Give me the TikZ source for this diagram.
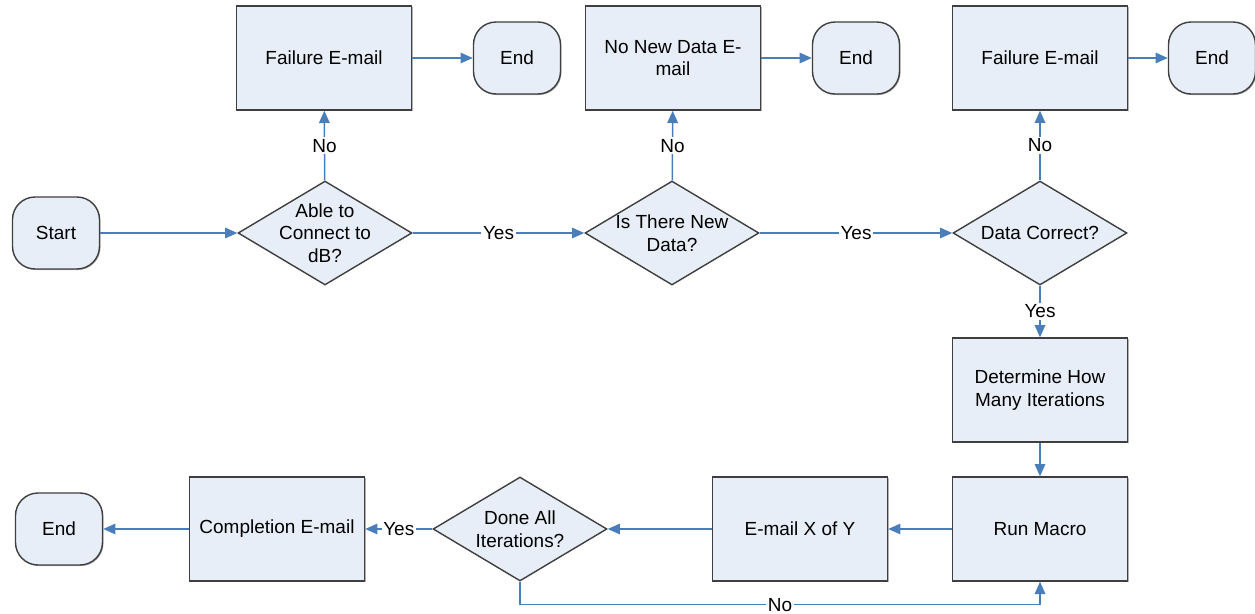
\documentclass[tikz,border=0pt]{standalone}
\usepackage{fontspec}
\setmainfont{Liberation Sans}
\usetikzlibrary{shapes.geometric,arrows.meta,shadows}

\definecolor{boxfill}{HTML}{E8EEF7}
\definecolor{boxline}{HTML}{3F3F3F}
\definecolor{flowblue}{HTML}{4A7EBB}

\begin{document}
\begin{tikzpicture}[x=0.02cm, y=-0.02cm,
    font=\fontsize{10.8}{12.8}\selectfont,
    process/.style ={rectangle, draw=boxline, fill=boxfill, line width=0.8pt,
      minimum width=3.5cm, minimum height=2.08cm, align=center,
      drop shadow={shadow xshift=0.7pt, shadow yshift=-0.7pt, fill=black!60}},
    decision/.style ={diamond, draw=boxline, fill=boxfill, line width=0.8pt,
      minimum width=3.48cm, minimum height=2.08cm, inner sep=-8pt, align=center},
    terminal/.style ={rectangle, rounded corners=0.45cm, draw=boxline, fill=boxfill,
      line width=0.8pt, minimum width=1.74cm, minimum height=1.44cm,
      drop shadow={shadow xshift=0.6pt, shadow yshift=-0.6pt, fill=black!60}},
    flow/.style ={draw=flowblue, line width=0.9pt, -{Triangle[length=7pt,width=6pt]}},
    answer/.style ={fill=white, inner sep=1pt}]
   \useasboundingbox (0,0) rectangle (1255,613);

   % top row: the three checks and their failure branches
   \node[terminal] (start) at (56,233) {Start};
   \node[decision] (connect) at (325,233) {Able to\\Connect to\\dB?};
   \node[process] (fail1) at (324,58) {Failure E-mail};
   \node[terminal] (end1) at (517,58) {End};
   \node[decision] (newdata) at (672,233) {Is There New\\Data?};
   \node[process] (nonew) at (673,58) {No New Data E-\\mail};
   \node[terminal] (end2) at (856,58) {End};
   \node[decision] (correct) at (1040,233) {Data Correct?};
   \node[process] (fail3) at (1040,58) {Failure E-mail};
   \node[terminal] (end3) at (1212,58) {End};

   % lower part: the iteration loop
   \node[process] (iterations) at (1040,390) {Determine How\\Many Iterations};
   \node[process] (macro) at (1040,529) {Run Macro};
   \node[process] (mailxy) at (800,529) {E-mail X of Y};
   \node[decision] (done) at (520,529) {Done All\\Iterations?};
   \node[process] (complete) at (277,529) {Completion E-mail};
   \node[terminal] (end4) at (59,529) {End};

   \draw[flow] (start) to (connect);
   \draw[flow] (connect) to node[answer] {No} (fail1);
   \draw[flow] (fail1) to (end1);
   \draw[flow] (connect) to node[answer] {Yes} (newdata);
   \draw[flow] (newdata) to node[answer] {No} (nonew);
   \draw[flow] (nonew) to (end2);
   \draw[flow] (newdata) to node[answer] {Yes} (correct);
   \draw[flow] (correct) to node[answer] {No} (fail3);
   \draw[flow] (fail3) to (end3);
   \draw[flow] (correct) to node[answer] {Yes} (iterations);
   \draw[flow] (iterations) to (macro);
   \draw[flow] (macro) to (mailxy);
   \draw[flow] (mailxy) to (done);
   \draw[flow] (done) to node[answer] {Yes} (complete);
   \draw[flow] (complete) to (end4);
   \draw[flow] (done.south) -- ++(0,23) -| node[answer, pos=0.25] {No} (macro.south);
 \end{tikzpicture}
\end{document}
